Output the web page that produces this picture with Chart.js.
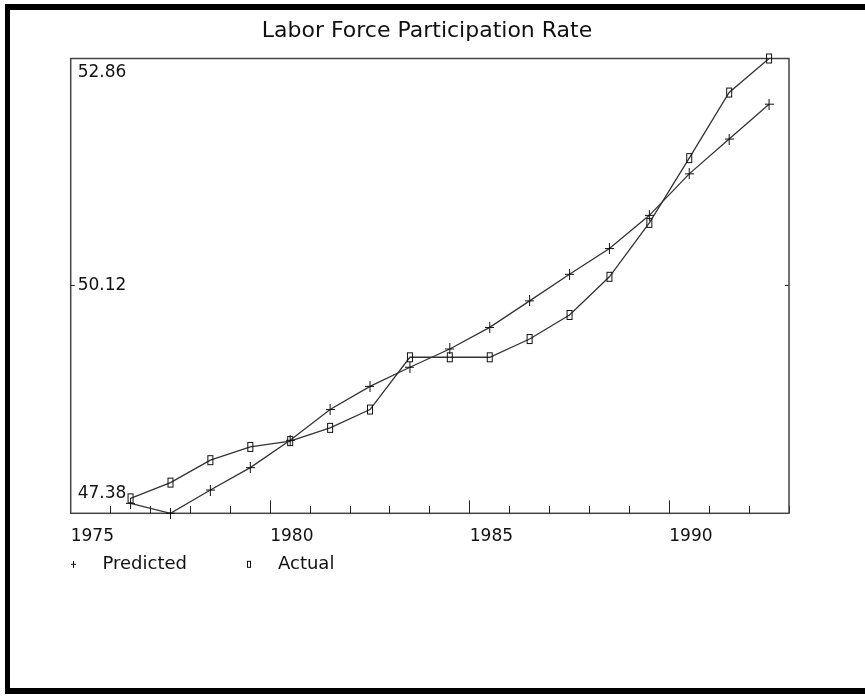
<!DOCTYPE html>
<html>
<head>
<meta charset="utf-8">
<script src="https://cdn.jsdelivr.net/npm/chart.js@4.4.1/dist/chart.umd.min.js"></script>
<style>
  html, body { margin:0; padding:0; background:#fff; overflow:hidden; }
  #wrap  { position:relative; width:865px; height:696px; }
  #frame { position:absolute; left:5px; top:4px; width:870px; height:690px; box-sizing:border-box;
           border-top:6px solid #000; border-left:5px solid #000; border-bottom:6px solid #000; pointer-events:none; }
</style>
</head>
<body>
<div id="wrap">
  <canvas id="chart" width="865" height="696"></canvas>
  <div id="frame"></div>
</div>
<script>
// values (mid-year points)
const years     = [1976.5, 1977.5, 1978.5, 1979.5, 1980.5, 1981.5, 1982.5, 1983.5, 1984.5,
                   1985.5, 1986.5, 1987.5, 1988.5, 1989.5, 1990.5, 1991.5, 1992.5];
const predicted = [47.50, 47.38, 47.66, 47.93, 48.26, 48.63, 48.91, 49.14, 49.36,
                   49.62, 49.94, 50.26, 50.57, 50.97, 51.47, 51.89, 52.31];
const actual    = [47.56, 47.75, 48.02, 48.18, 48.25, 48.41, 48.63, 49.26, 49.26,
                   49.26, 49.48, 49.77, 50.23, 50.88, 51.66, 52.45, 52.86];
const xTickLabels = [1975, 1980, 1985, 1990];
const yTicks      = [47.38, 50.12, 52.86];

const INK  = '#111';
const FONT = "'DejaVu Sans', sans-serif";

// small bitmap markers: '+' and a tall open box
function crossMark(w, h) {
  const c = document.createElement('canvas'); c.width = w; c.height = h;
  const g = c.getContext('2d');
  g.strokeStyle = INK; g.lineWidth = 1;
  g.beginPath();
  g.moveTo(0, Math.floor(h / 2) + 0.5); g.lineTo(w, Math.floor(h / 2) + 0.5);
  g.moveTo(Math.floor(w / 2) + 0.5, 0); g.lineTo(Math.floor(w / 2) + 0.5, h);
  g.stroke();
  return c;
}
function boxMark(w, h) {
  const c = document.createElement('canvas'); c.width = w + 2; c.height = h + 2;
  const g = c.getContext('2d');
  g.strokeStyle = INK; g.lineWidth = 1;
  g.strokeRect(1.5, 1.5, w - 1, h - 1);
  return c;
}
const plotCross = crossMark(9, 11), plotBox = boxMark(6, 10);
const legCross  = crossMark(5, 7),  legBox  = boxMark(4, 7);

const framePlugin = {
  id: 'frame',
  beforeDatasetsDraw(chart) {
    const { ctx, chartArea: a } = chart;
    ctx.save();
    ctx.strokeStyle = '#444'; ctx.lineWidth = 1.5;
    ctx.strokeRect(a.left, a.top, a.right - a.left, a.bottom - a.top);
    ctx.restore();
  }
};

const yFont = c => {
  const v = c.tick ? c.tick.value : null;
  return { family: FONT, size: 17, lineHeight: v === yTicks[2] ? '28px' : v === yTicks[0] ? '40px' : 1.2 };
};

new Chart(document.getElementById('chart'), {
  type: 'line',
  data: {
    datasets: [
      { label: 'Predicted', data: years.map((x, i) => ({ x, y: predicted[i] })),
        borderColor: '#333', borderWidth: 1.3, tension: 0, fill: false, clip: false,
        pointStyle: plotCross, pointRadius: 5 },
      { label: 'Actual', data: years.map((x, i) => ({ x, y: actual[i] })),
        borderColor: '#333', borderWidth: 1.3, tension: 0, fill: false, clip: false,
        pointStyle: plotBox, pointRadius: 5 },
    ]
  },
  options: {
    responsive: false, animation: false, devicePixelRatio: 1,
    layout: { padding: { left: 11.5, right: 22.5, top: 0, bottom: 112.7 } },
    plugins: {
      title: { display: true, text: 'Labor Force Participation Rate', color: INK,
               font: { family: FONT, size: 22, weight: 'normal', lineHeight: 1.2 },
               padding: { top: 18.3, bottom: 13.8 } },
      legend: { position: 'bottom', align: 'start',
        labels: { usePointStyle: true, pointStyleWidth: 40, padding: 42, color: INK,
                  font: { family: FONT, size: 18 },
                  generateLabels(chart) {
                    const items = Chart.defaults.plugins.legend.labels.generateLabels(chart);
                    items[0].pointStyle = legCross; items[1].pointStyle = legBox;
                    return items;
                  } } },
      tooltip: { enabled: false },
    },
    scales: {
      // labels mirrored so they are not clipped by the zero-height axis box
      x: { type: 'linear', position: 'bottom', min: 1975, max: 1993,
           ticks: { stepSize: 1, autoSkip: false, maxRotation: 0, minRotation: 0, align: 'start',
                    mirror: true, padding: -33, color: INK, font: { family: FONT, size: 17 },
                    callback: v => xTickLabels.includes(v) ? String(v) : '' },
           grid: { drawOnChartArea: false, tickLength: -13, tickColor: '#222', tickWidth: 1,
                   tickBorderDash: c => (c.tick && c.tick.value % 5 === 0) ? [] : [7, 30] },
           border: { display: false },
           afterFit: s => { s.height = 0; } },
      y: { type: 'linear', position: 'left', min: yTicks[0], max: yTicks[2],
           afterBuildTicks: s => { s.ticks = yTicks.map(v => ({ value: v })); },
           ticks: { mirror: true, padding: 7, color: INK, font: yFont,
                    callback: v => {
                      const s = v.toFixed(2);
                      if (v === yTicks[2]) return ['', s];
                      if (v === yTicks[0]) return [s, ''];
                      return s;
                    } },
           grid: { drawOnChartArea: false, tickLength: -4, tickColor: '#222', tickWidth: 1 },
           border: { display: false },
           afterFit: s => { s.width = 59.2; } },
      y2: { type: 'linear', position: 'right', min: yTicks[0], max: yTicks[2],
            afterBuildTicks: s => { s.ticks = yTicks.map(v => ({ value: v })); },
            ticks: { display: false },
            grid: { drawOnChartArea: false, tickLength: -4, tickColor: '#222', tickWidth: 1 },
            border: { display: false },
            afterFit: s => { s.width = 53.5; } },
    }
  },
  plugins: [framePlugin]
});
</script>
</body>
</html>
